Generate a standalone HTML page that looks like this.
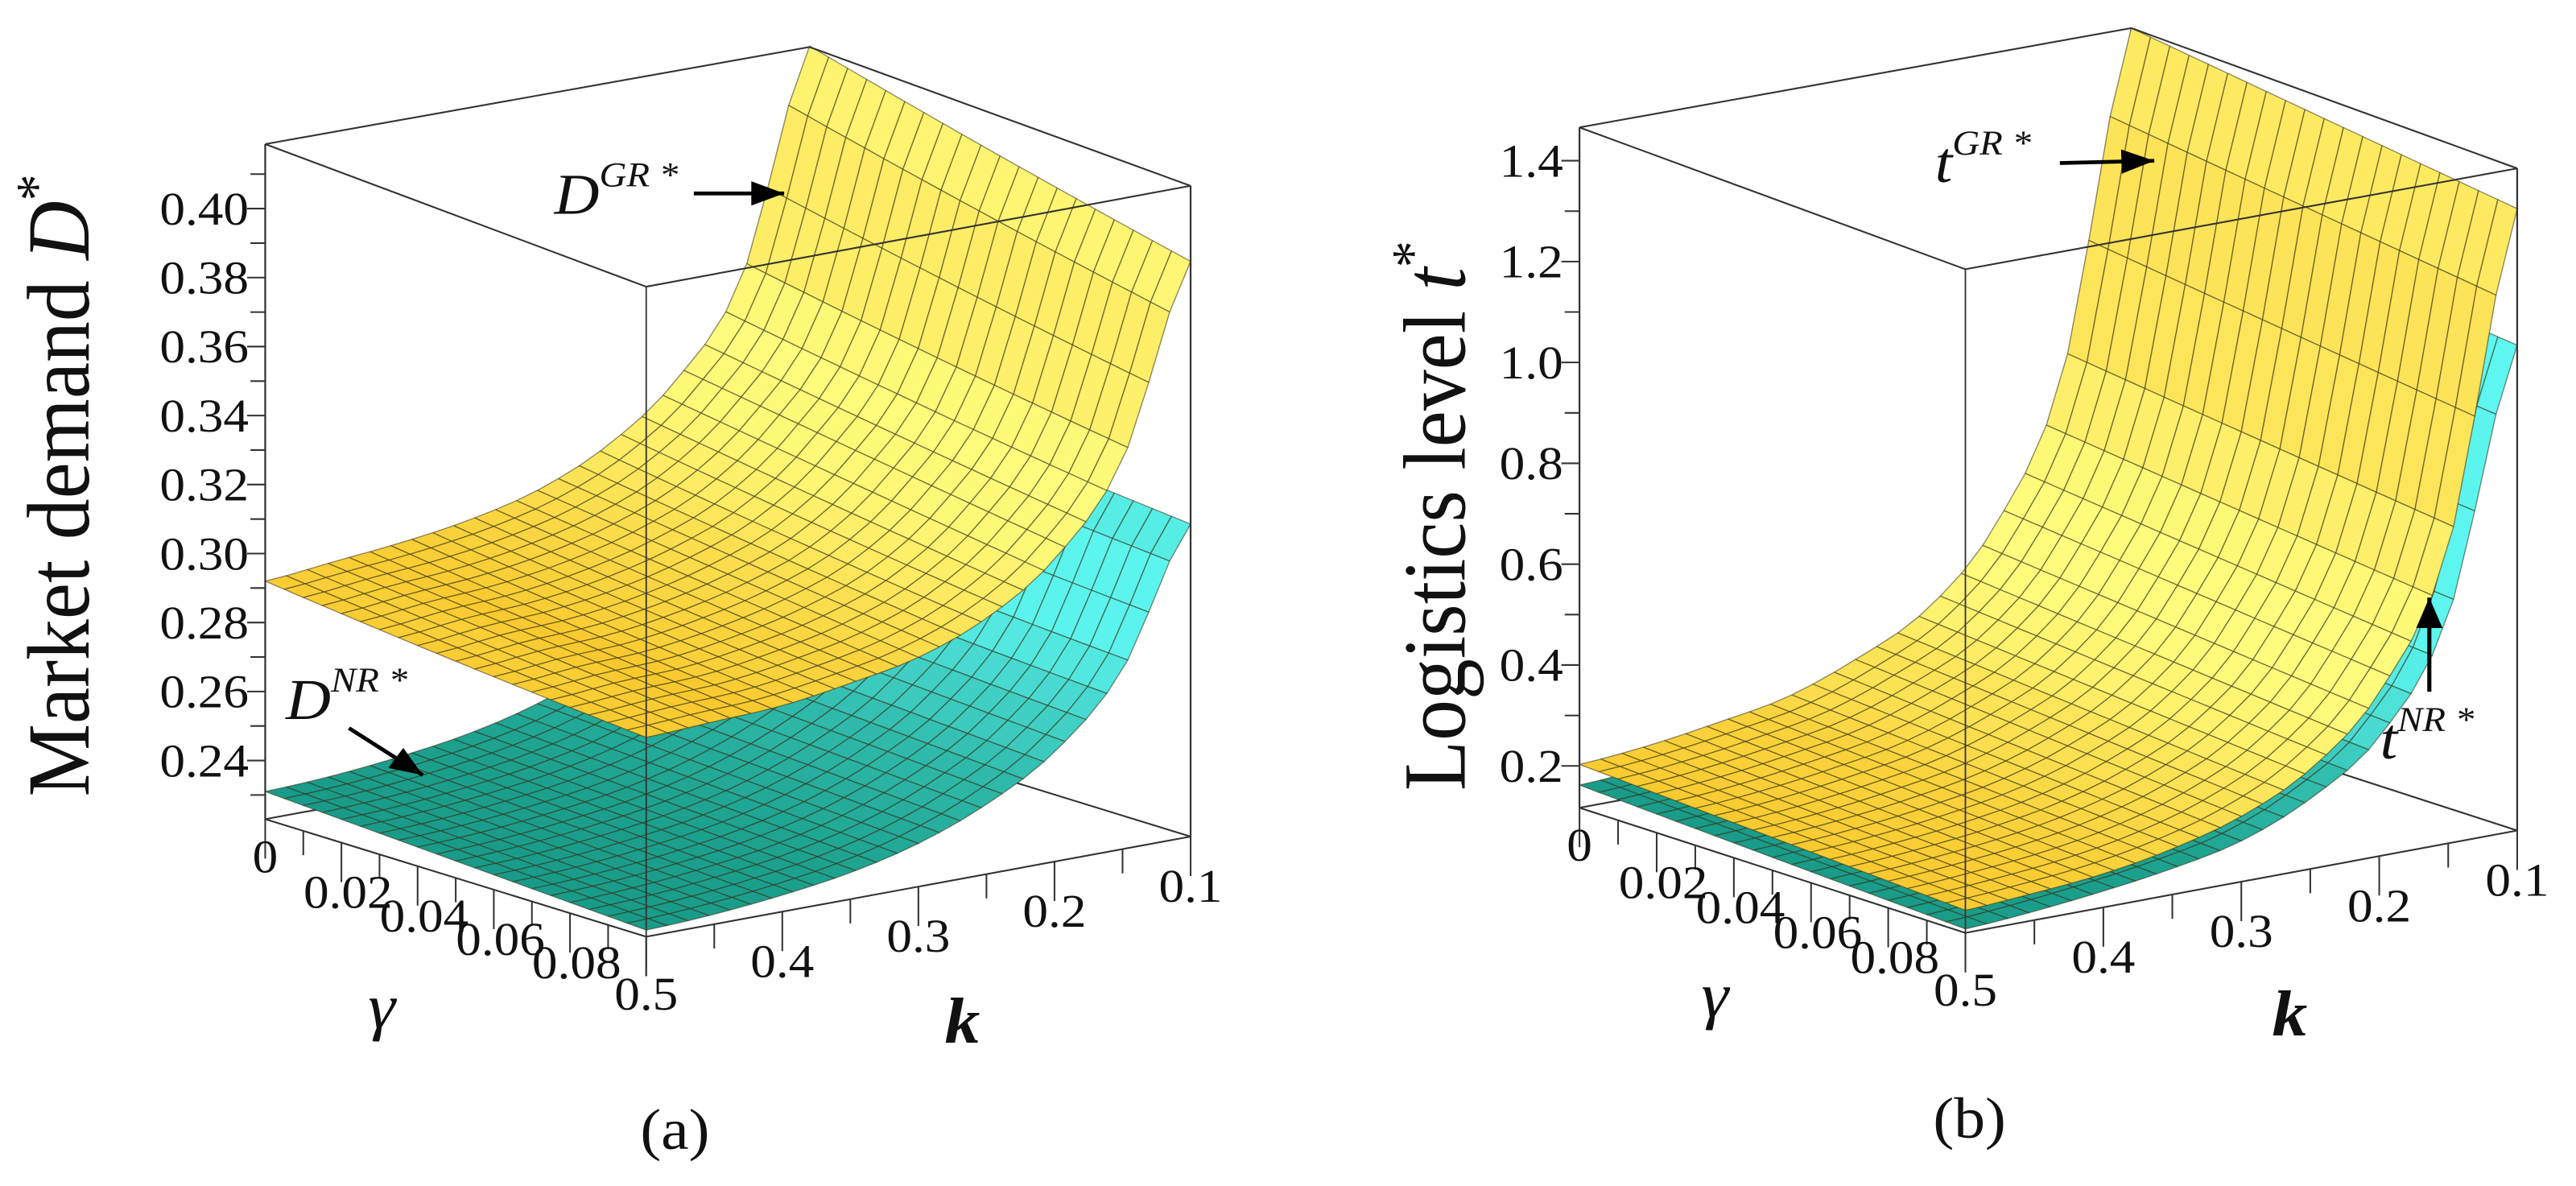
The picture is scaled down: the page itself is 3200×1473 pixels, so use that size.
<!DOCTYPE html>
<html><head><meta charset="utf-8"><style>
html,body{margin:0;padding:0;background:#fff}
svg{display:block}
text{font-family:"Liberation Serif",serif;fill:#111}
</style></head><body>
<svg id="fig" width="3200" height="1473" viewBox="0 0 3200 1473" xmlns="http://www.w3.org/2000/svg">
<g id="panelA" transform="translate(0,0) scale(1.02,0.942)"></g>
<g id="panelB" transform="translate(1600,0) scale(1.02,0.942)"></g>
</svg>
<script>
// ---- data (k ascending; gamma slices 0, 0.05, 0.1) ----
const kValues = [0.1,0.15,0.2,0.25,0.3,0.35,0.4,0.45,0.5];
const gammaValues = [0,0.05,0.1];
const demandGR_g0  = [0.419,0.355,0.328,0.313,0.304,0.299,0.296,0.294,0.292];
const demandGR_g05 = [0.407,0.347,0.321,0.306,0.298,0.293,0.290,0.289,0.287];
const demandGR_g10 = [0.396,0.340,0.314,0.300,0.292,0.288,0.285,0.284,0.283];
const demandNR_g0  = [0.325,0.284,0.262,0.250,0.242,0.237,0.234,0.232,0.231];
const demandNR_g05 = [0.321,0.280,0.259,0.247,0.239,0.234,0.231,0.229,0.228];
const demandNR_g10 = [0.317,0.277,0.256,0.244,0.236,0.231,0.228,0.226,0.225];
const logisticsGR_g0  = [1.466,0.80,0.52,0.38,0.31,0.26,0.235,0.215,0.203];
const logisticsGR_g05 = [1.425,0.76,0.485,0.35,0.28,0.235,0.21,0.193,0.183];
const logisticsGR_g10 = [1.384,0.72,0.45,0.32,0.25,0.21,0.185,0.172,0.163];
const logisticsNR_g0  = [1.18,0.64,0.41,0.30,0.245,0.21,0.19,0.172,0.162];
const logisticsNR_g05 = [1.14,0.61,0.385,0.28,0.222,0.19,0.17,0.153,0.143];
const logisticsNR_g10 = [1.106,0.58,0.36,0.26,0.20,0.17,0.15,0.135,0.125];
const demandTicks = [0.24,0.26,0.28,0.30,0.32,0.34,0.36,0.38,0.40];
const demandTickLabels = ["0.24","0.26","0.28","0.30","0.32","0.34","0.36","0.38","0.40"];
const logisticsTicks = [0.2,0.4,0.6,0.8,1.0,1.2,1.4];
const logisticsTickLabels = ["0.2","0.4","0.6","0.8","1.0","1.2","1.4"];
const gammaTicks = [0,0.02,0.04,0.06,0.08];
const gammaTickLabels = ["0","0.02","0.04","0.06","0.08"];
const kTicks = [0.5,0.4,0.3,0.2,0.1];
const kTickLabels = ["0.5","0.4","0.3","0.2","0.1"];

const NS="http://www.w3.org/2000/svg";
function mk(tag, attrs, parent){const e=document.createElementNS(NS,tag);for(const a in attrs)e.setAttribute(a,attrs[a]);parent.appendChild(e);return e;}

function makeProj(cfg){
  return function(g,k,z){
    const u=g/0.1, v=(0.5-k)/0.4, w=(z-cfg.zmin)/(cfg.zmax-cfg.zmin);
    const c=cfg.corners;
    const bl=(i)=>c.A[i]*(1-u)*(1-v)+c.B[i]*u*(1-v)+c.C[i]*u*v+c.D[i]*(1-u)*v;
    const tp=(i)=>c.At[i]*(1-u)*(1-v)+c.Bt[i]*u*(1-v)+c.Ct[i]*u*v+c.Dt[i]*(1-u)*v;
    return [bl(0)+w*(tp(0)-bl(0)), bl(1)+w*(tp(1)-bl(1))];
  };
}
function cr(p0,p1,p2,p3,t){return 0.5*((2*p1)+(-p0+p2)*t+(2*p0-5*p1+4*p2-p3)*t*t+(-p0+3*p1-3*p2+p3)*t*t*t);}
function sampleK(arr,k){
  const f=(k-kValues[0])/(kValues[1]-kValues[0]);
  let i=Math.min(Math.floor(f),arr.length-2); const t=f-i;
  const g=(j)=>arr[Math.max(0,Math.min(arr.length-1,j))];
  return cr(g(i-1),g(i),g(i+1),g(i+2),t);
}
function surfVal(slices,g,k){
  const a=sampleK(slices[0],k), b=sampleK(slices[1],k), c=sampleK(slices[2],k);
  const x0=gammaValues[0],x1=gammaValues[1],x2=gammaValues[2];
  return a*(g-x1)*(g-x2)/((x0-x1)*(x0-x2))+b*(g-x0)*(g-x2)/((x1-x0)*(x1-x2))+c*(g-x0)*(g-x1)/((x2-x0)*(x2-x1));
}
function mix(c1,c2,t){return 'rgb('+c1.map((v,i)=>Math.round(v+(c2[i]-v)*t)).join(',')+')';}

function drawSurface(parent,cfg,proj,slices,pal,name){
  const grp=mk('g',{},parent);
  
  
  const NG=20, NK=26, quads=[];
  const gv=(i)=>0.1*i/NG, kv=(j)=>0.1+0.4*j/NK;
  const Z=[];
  for(let i=0;i<=NG;i++){Z[i]=[];for(let j=0;j<=NK;j++)Z[i][j]=surfVal(slices,gv(i),kv(j));}
  const zr=cfg.zmax-cfg.zmin;
  for(let i=0;i<NG;i++)for(let j=0;j<NK;j++){
    const z00=Z[i][j],z10=Z[i+1][j],z01=Z[i][j+1],z11=Z[i+1][j+1];
    const du=((z10+z11)-(z00+z01))/2/zr*NG;
    const dv=-((z01+z11)-(z00+z10))/2/zr*NK;
    let n=[-du,-dv,1]; const L=Math.hypot(...n); n=n.map(x=>x/L);
    let l=pal.light; const ll=Math.hypot(...l); l=l.map(x=>x/ll);
    let d=Math.max(0,n[0]*l[0]+n[1]*l[1]+n[2]*l[2]);
    const t=Math.pow(d,pal.pow);
    const pts=[proj(gv(i),kv(j),z00),proj(gv(i+1),kv(j),z10),proj(gv(i+1),kv(j+1),z11),proj(gv(i),kv(j+1),z01)];
    quads.push({depth:(i/NG)-((0.5-kv(j))/0.4), pts, col:mix(pal.dark,pal.bright,t)});
  }
  quads.sort((a,b)=>a.depth-b.depth);
  for(const q of quads){
    const p=mk('polygon',{points:q.pts.map(p=>p[0].toFixed(1)+','+p[1].toFixed(1)).join(' '),fill:q.col,stroke:'rgba(50,45,20,0.55)','stroke-width':1.4,'stroke-linejoin':'round'},grp);
    
    
  }
}

function line(parent,a,b,name,w){const l=mk('line',{x1:a[0],y1:a[1],x2:b[0],y2:b[1],stroke:'#333','stroke-width':w||2.2},parent);return l;}
function label(parent,x,y,txt,size,name,anchor,extra){const t=mk('text',Object.assign({x:x,y:y,'font-size':size,'text-anchor':anchor||'middle'},extra||{}),parent);t.textContent=txt;return t;}

function drawPanel(root,cfg){
  const proj=makeProj(cfg), c=cfg.corners;
  line(root,c.A,c.D,'box-back-bottom-left');
  line(root,c.D,c.C,'box-back-bottom-right');
  line(root,c.D,c.Dt,'box-back-vertical');
  drawSurface(root,cfg,proj,cfg.nr,{dark:[20,150,130],bright:[100,255,250],light:[0.25,-0.9,0.35],pow:3},'surface-nr');
  drawSurface(root,cfg,proj,cfg.gr,{dark:[245,178,10],bright:[255,252,125],light:[0,-0.75,0.66],pow:3},'surface-gr');
  line(root,c.A,c.At,'z-axis-line');
  line(root,c.B,c.Bt,'box-front-vertical',1.8);
  line(root,c.C,c.Ct,'box-right-vertical');
  line(root,c.At,c.Bt,'box-top-front-left');
  line(root,c.Bt,c.Ct,'box-top-front-right');
  line(root,c.At,c.Dt,'box-top-back-left');
  line(root,c.Dt,c.Ct,'box-top-back-right');
  line(root,c.A,c.B,'gamma-axis-line');
  line(root,c.B,c.C,'k-axis-line');
  const zp=(z)=>{const w=(z-cfg.zmin)/(cfg.zmax-cfg.zmin);return [c.A[0], c.A[1]+w*(c.At[1]-c.A[1])];};
  const step=cfg.zTicks[1]-cfg.zTicks[0];
  for(let z=cfg.zTicks[0]-step/2; z<cfg.zmax; z+=step/2){
    if(z<cfg.zmin) continue;
    const p=zp(z); const major=cfg.zTicks.some(t=>Math.abs(t-z)<1e-6);
    line(root,[p[0]-(major?22:18),p[1]],p,major?'z-major-tick':'z-minor-tick',2.2);
  }
  cfg.zTicks.forEach((z,i)=>{const p=zp(z);label(root,p[0]-20,p[1]+21,cfg.zLabels[i],cfg.numSize,'z-tick-label','end');});
  for(let g=0; g<0.1+1e-9; g+=0.01){
    const p=proj(g,0.5,cfg.zmin); const major=Math.round(g*100)%2===0;
    line(root,p,[p[0],p[1]+(major?52:32)],major?'gamma-major-tick':'gamma-minor-tick',2);
  }
  gammaTicks.forEach((g,i)=>{const p=proj(g,0.5,cfg.zmin);label(root,p[0]+(i===0?0:8),p[1]+(i===0?70:86),gammaTickLabels[i],cfg.numSize,'gamma-tick-label');});
  for(let k=0.5; k>0.1-1e-9; k-=0.05){
    const p=proj(0.1,k,cfg.zmin); const major=Math.round(k*100)%10===0;
    line(root,p,[p[0],p[1]+(major?52:32)],major?'k-major-tick':'k-minor-tick',2);
  }
  kTicks.forEach((k,i)=>{const p=proj(0.1,k,cfg.zmin);label(root,p[0],p[1]+(i===0?96:86),kTickLabels[i],cfg.numSize,'k-tick-label');});
  label(root,cfg.gammaPos[0],cfg.gammaPos[1],'γ',84,'gamma-axis-title','middle',{'font-style':'italic'});
  label(root,cfg.kPos[0],cfg.kPos[1],'k',86,'k-axis-title','middle',{'font-style':'italic','font-weight':'bold'});
  const yt=mk('text',{x:0,y:0,'font-size':cfg.titleSize,'text-anchor':'middle',transform:'translate('+cfg.titlePos[0]+','+cfg.titlePos[1]+') rotate(-90)'},root);
  
  yt.appendChild(document.createTextNode(cfg.title+'  '));
  const ts=mk('tspan',{'font-style':'italic'},yt);ts.textContent=cfg.titleSym;
  const ts2=mk('tspan',{dy:-40,'font-size':cfg.titleSize*0.65},yt);ts2.textContent='*';
  label(root,cfg.capPos[0],cfg.capPos[1],cfg.caption,76,'panel-caption');
  cfg.notes.forEach(n=>{
    const t=mk('text',{x:n.x,y:n.y,'font-size':76,'font-style':'italic'},root);
    
    t.appendChild(document.createTextNode(n.sym));
    const s=mk('tspan',{dy:-36,'font-size':46},t);s.textContent=n.sup+' *';
    const a=n.arrow;
    const l=line(root,[a[0],a[1]],[a[2],a[3]],n.name+'-arrow',5);l.setAttribute('stroke','#000');
    const ang=Math.atan2(a[3]-a[1],a[2]-a[0]),L=40,W=16;
    const hx=a[2],hy=a[3],bx=hx-L*Math.cos(ang),by=hy-L*Math.sin(ang);
    const h=mk('polygon',{points:[hx,hy,bx+W*Math.sin(ang),by-W*Math.cos(ang),bx-W*Math.sin(ang),by+W*Math.cos(ang)].join(','),fill:'#000'},root);
    
  });
}

drawPanel(document.getElementById('panelA'),{
  corners:{A:[323,1080],B:[787,1235],C:[1450,1103],D:[986,948],At:[323,190],Bt:[787,378],Ct:[1450,245],Dt:[986,62]},
  zmin:0.223,zmax:0.4187,
  gr:[demandGR_g0,demandGR_g05,demandGR_g10], nr:[demandNR_g0,demandNR_g05,demandNR_g10],
  zTicks:demandTicks,zLabels:demandTickLabels,numSize:62,
  gammaPos:[465,1355],kPos:[1172,1375],
  title:'Market demand',titleSym:'D',titleSize:108,titlePos:[108,640],
  capPos:[822,1515],caption:'(a)',
  notes:[{x:675,y:282,sym:'D',sup:'GR',name:'dgr-annotation',arrow:[845,255,955,255]},
         {x:348,y:948,sym:'D',sup:'NR',name:'dnr-annotation',arrow:[425,960,515,1022]}]
});
drawPanel(document.getElementById('panelB'),{
  corners:{A:[355,1065],B:[825,1230],C:[1497,1095],D:[1027,930],At:[355,168],Bt:[825,355],Ct:[1497,222],Dt:[1027,37]},
  zmin:0.117,zmax:1.466,
  gr:[logisticsGR_g0,logisticsGR_g05,logisticsGR_g10], nr:[logisticsNR_g0,logisticsNR_g05,logisticsNR_g10],
  zTicks:logisticsTicks,zLabels:logisticsTickLabels,numSize:62,
  gammaPos:[520,1340],kPos:[1220,1365],
  title:'Logistics level',titleSym:'t',titleSize:108,titlePos:[215,680],
  capPos:[830,1500],caption:'(b)',
  notes:[{x:788,y:240,sym:'t',sup:'GR',name:'tgr-annotation',arrow:[940,215,1055,212]},
         {x:1330,y:1000,sym:'t',sup:'NR',name:'tnr-annotation',arrow:[1390,912,1390,788]}]
});
</script>
</body></html>
